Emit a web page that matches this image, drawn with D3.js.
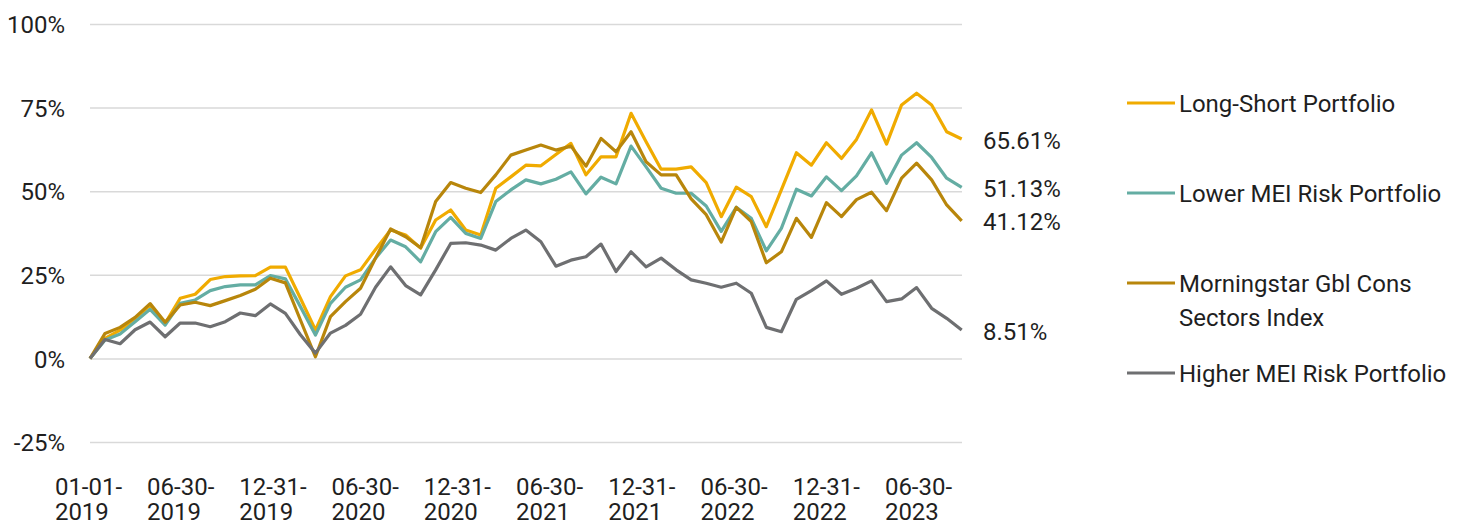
<!DOCTYPE html>
<html><head><meta charset="utf-8">
<script src="https://cdn.jsdelivr.net/npm/d3@7"></script>
<style>
body{margin:0;background:#fff;}
svg{display:block;font-family:Roboto,"Noto Sans",sans-serif;}
</style>
</head><body>
<svg id="chart" width="1466" height="521"></svg>
<script>
const dates = ["01-01-2019","01-31-2019","02-28-2019","03-31-2019","04-30-2019","05-31-2019","06-30-2019","07-31-2019","08-31-2019","09-30-2019","10-31-2019","11-30-2019","12-31-2019",
"01-31-2020","02-29-2020","03-31-2020","04-30-2020","05-31-2020","06-30-2020","07-31-2020","08-31-2020","09-30-2020","10-31-2020","11-30-2020","12-31-2020",
"01-31-2021","02-28-2021","03-31-2021","04-30-2021","05-31-2021","06-30-2021","07-31-2021","08-31-2021","09-30-2021","10-31-2021","11-30-2021","12-31-2021",
"01-31-2022","02-28-2022","03-31-2022","04-30-2022","05-31-2022","06-30-2022","07-31-2022","08-31-2022","09-30-2022","10-31-2022","11-30-2022","12-31-2022",
"01-31-2023","02-28-2023","03-31-2023","04-30-2023","05-31-2023","06-30-2023","07-31-2023","08-31-2023","09-30-2023","10-31-2023"];

const tickLabels = ["01-01-2019","06-30-2019","12-31-2019","06-30-2020","12-31-2020","06-30-2021","12-31-2021","06-30-2022","12-31-2022","06-30-2023"];
const yTicks = [-25, 0, 25, 50, 75, 100];

const longShort = [0,6,8.5,11.5,16,10.5,18,19.2,23.6,24.5,24.7,24.8,27.3,
27.3,18,8.5,18.5,24.7,26.5,32.6,38.4,36.9,33,41.4,44.4,
38.4,36.9,50.9,54.3,57.8,57.6,61,64.3,54.9,60.3,60.3,73.3,
64.8,56.6,56.6,57.3,52.6,42.4,51.2,48.4,39.4,50.4,61.5,57.8,
64.5,59.8,65.5,74.3,64.1,75.8,79.3,75.8,67.8,65.61];

const lowerMEI = [0,5.5,7.3,11,14.7,10,16.5,17.5,20.3,21.5,22,22,24.8,
23.8,15.5,7,16.5,21.3,23.5,30,35.4,33.4,28.9,37.9,42.2,
37.4,35.9,46.9,50.4,53.4,52.2,53.6,55.8,49.2,54.2,52.2,63.5,
57.3,50.9,49.4,49.4,45.6,38,45.2,41.9,32.2,38.9,50.6,48.6,
54.3,50.2,54.6,61.5,52.4,60.8,64.5,60.1,53.9,51.13];

const morningstar = [0,7.5,9.3,12.3,16.4,10.8,16,16.8,15.8,17.3,18.8,20.7,24,
22.6,11.5,0.5,12.5,17,21,30,38.7,36.4,33.1,46.9,52.6,
50.9,49.6,54.9,60.8,62.3,63.8,62.3,63.5,57.5,65.8,61.8,67.8,
58.8,54.9,54.9,47.7,43,34.8,45.2,40.9,28.6,31.9,41.9,36.2,
46.6,42.4,47.5,49.7,44.2,53.9,58.4,53.4,45.9,41.12];

const higherMEI = [0,5.7,4.4,8.6,10.9,6.5,10.6,10.6,9.5,11,13.6,12.8,16.3,
13.5,7.1,1.6,7.6,9.9,13.2,21.3,27.4,21.8,19,26.5,34.4,
34.6,33.9,32.4,35.9,38.4,34.9,27.6,29.4,30.4,34.2,26,31.9,
27.4,30,26.5,23.5,22.5,21.3,22.5,19.5,9.3,8,17.7,20.3,
23.2,19.2,21,23.2,17,17.8,21.2,15,12,8.51];

const seriesNames = ["Long-Short Portfolio","Lower MEI Risk Portfolio","Morningstar Gbl Cons Sectors Index","Higher MEI Risk Portfolio"];
const legendLines = [["Long-Short Portfolio"],["Lower MEI Risk Portfolio"],["Morningstar Gbl Cons","Sectors Index"],["Higher MEI Risk Portfolio"]];
const endLabels = ["65.61%","51.13%","41.12%","8.51%"];
const colors = ["#F0AB00","#64ADA3","#B8860B","#6E6F71"];

const series = [longShort, lowerMEI, morningstar, higherMEI];

const svg = d3.select("#chart");
const plotLeft = 90, plotRight = 962;
const x = d3.scalePoint().domain(dates).range([plotLeft, 961.7]);
const xLab = d3.scalePoint().domain(tickLabels).range([88, 918]);
const y = d3.scaleLinear().domain([-25, 100]).range([442.1, 24]);
const textColor = "#1f1f1f";

// gridlines + y labels
const yAxis = d3.axisLeft(y).tickValues(yTicks).tickFormat(d => d + "%")
  .tickSize(-(plotRight - plotLeft)).tickPadding(25);
const gy = svg.append("g").attr("transform", `translate(${plotLeft},0)`).call(yAxis);
gy.select(".domain").remove();
gy.selectAll(".tick line").attr("stroke", "#D9D9D9").attr("stroke-width", 1.5);
gy.selectAll(".tick text").attr("font-size", 24).attr("fill", textColor)
  .attr("font-family", "Roboto").attr("dy", "0.36em");

// x labels
const xAxis = d3.axisBottom(xLab).tickSize(0).tickPadding(0);
const gx = svg.append("g").attr("transform", "translate(0,495)").call(xAxis);
gx.select(".domain").remove();
gx.selectAll(".tick text").each(function(d) {
  const t = d3.select(this);
  t.text(null).attr("y", 0).attr("dy", 0).attr("font-size", 24)
   .attr("fill", textColor).attr("font-family", "Roboto").attr("text-anchor", "start");
  const parts = [d.slice(0, 6), d.slice(6)];
  const l1 = t.append("tspan").attr("x", 0).attr("y", 0).text(parts[0]);
  const w = l1.node().getComputedTextLength();
  l1.attr("x", -w / 2);
  t.append("tspan").attr("x", -w / 2).attr("y", 25).text(parts[1]);
});

// lines
const line = d3.line().x((d, i) => x(dates[i])).y(d => y(d));
svg.append("g").selectAll("path").data(series).join("path")
  .attr("d", line).attr("fill", "none")
  .attr("stroke", (d, i) => colors[i]).attr("stroke-width", 3.2)
  .attr("stroke-linejoin", "round").attr("stroke-linecap", "butt");

// end labels
svg.append("g").selectAll("text").data(series).join("text")
  .attr("x", 983).attr("y", d => y(d[d.length - 1]) + 9.5)
  .attr("font-size", 24).attr("fill", textColor)
  .text((d, i) => endLabels[i]);

// legend
const legendY = [103, 193, 283, 373];
const lg = svg.append("g").selectAll("g").data(seriesNames).join("g")
  .attr("transform", (d, i) => `translate(1127,${legendY[i]})`);
lg.append("line").attr("x1", 0).attr("x2", 48).attr("y1", 0).attr("y2", 0)
  .attr("stroke", (d, i) => colors[i]).attr("stroke-width", 3.2);
lg.append("text").attr("font-size", 24).attr("fill", textColor)
  .selectAll("tspan").data((d, i) => legendLines[i]).join("tspan")
  .attr("x", 52).attr("y", (d, j) => 8.5 + j * 34).text(d => d);
</script>
</body></html>
